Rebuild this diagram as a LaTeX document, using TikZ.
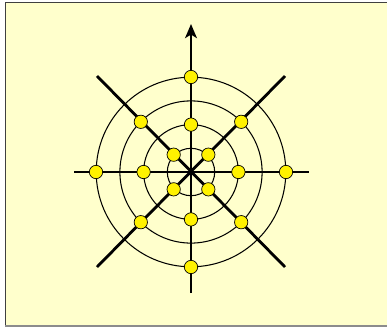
\documentclass[tikz,border=0pt]{standalone}
\usetikzlibrary{arrows.meta,calc}
\definecolor{webpaper}{HTML}{FFFFCC}
\definecolor{webedge}{HTML}{404040}
\definecolor{webfoot}{HTML}{8C8C8C}
\begin{document}
\begin{tikzpicture}[
  x=0.03cm, y=-0.03cm,
  ring/.style={draw=black, line width=0.9pt},
  spoke/.style={draw=black, line width=2.4pt},
  knot/.style={circle, draw=black, fill=yellow, line width=0.6pt,
               minimum size=0.4cm, inner sep=0pt},
]
\useasboundingbox (0,0) rectangle (387,327);

% ---- paper and its frame
\fill[webpaper] (5,2) rectangle (387,326);
\draw[webedge, line width=1.5pt] (5.5,326) -- (5.5,2.5) -- (387,2.5);
\draw[webfoot, line width=1pt] (5,326) -- (387,326);

% ---- rings round the centre
\coordinate (o) at (191,172);
\foreach \r in {1,...,4} { \draw[ring] (o) circle[radius=23.7*\r]; }

% ---- spokes, the upward one with an arrow
\coordinate (w) at (74,172);
\coordinate (e) at (309,172);
\coordinate (n) at (191,24);
\coordinate (s) at (191,293);
\coordinate (nw) at (97,76);
\coordinate (se) at (285,267);
\coordinate (ne) at (285,76);
\coordinate (sw) at (97,267);
\draw[spoke] (w) -- (e);
\draw[spoke, -{Stealth[length=12pt, width=10pt, inset=3pt]}] (s) -- (n);
\draw[spoke] (nw) -- (se);
\draw[spoke] (sw) -- (ne);

% ---- knots on the axes (rings 2 and 4) and on the diagonals (rings 1 and 3)
\foreach \a in {0,90,180,270} {
  \node[knot] (k2-\a) at ($(o)+(\a:47.4)$) {};
  \node[knot] (k4-\a) at ($(o)+(\a:95)$) {};
}
\foreach \a in {45,135,225,315} {
  \node[knot] (k1-\a) at ($(o)+(\a:24.5)$) {};
  \node[knot] (k3-\a) at ($(o)+(\a:71)$) {};
}
\end{tikzpicture}
\end{document}
